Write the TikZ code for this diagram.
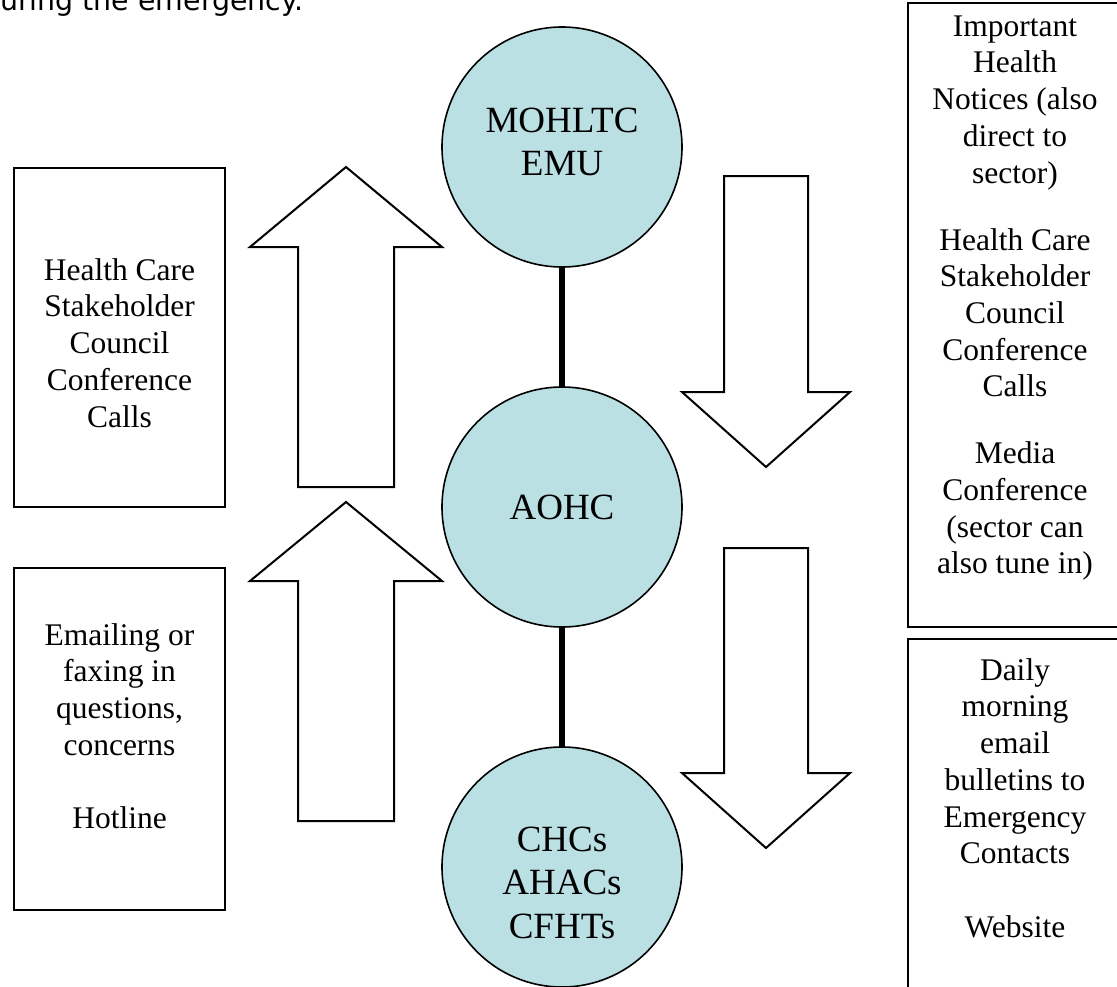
\documentclass[tikz,border=0pt]{standalone}
\usepackage{fontspec}
\setmainfont{Liberation Serif}
\newfontfamily\titlefont{DejaVu Sans}
\definecolor{circfill}{RGB}{186,224,227}
\tikzset{
  boxtext/.style={anchor=north, inner sep=0pt, align=center, font=\fontsize{31.5}{36.7}\selectfont},
  circtext/.style={anchor=north, inner sep=0pt, align=center, font=\fontsize{37}{43.5}\selectfont},
  infobox/.style={draw=black, line width=2pt, fill=none, inner sep=0pt, rectangle},
  bubble/.style={circle, draw=black, line width=1.6pt, fill=circfill, minimum size=240pt, inner sep=0pt},
  flowarrow/.style={draw=black, line width=2pt, fill=white, line join=miter},
  link/.style={line width=6pt, black}
}
\newcommand{\bstrut}{\rule{0pt}{24pt}}
\newcommand{\cstrut}{\rule{0pt}{28pt}}
\begin{document}
\begin{tikzpicture}[x=1pt, y=-1pt]
\useasboundingbox (0,0) rectangle (1117,986);
\clip (0,0) rectangle (1117,986);
\fill[white] (0,0) rectangle (1117,986);

% top (cut) text
\node[anchor=base west, inner sep=0pt, font=\titlefont\fontsize{28.4}{34}\selectfont] (title) at (-18,10) {during the emergency.};

% left boxes
\node[infobox, minimum width=211pt, minimum height=339pt] (lb1) at (119.5,337.5) {};
\node[infobox, minimum width=211pt, minimum height=342pt] (lb2) at (119.5,739) {};
\node[boxtext] (lt1) at (119.5,256) {\bstrut Health Care\\Stakeholder\\Council\\Conference\\Calls};
\node[boxtext] (lt2) at (119.5,621) {\bstrut Emailing or\\faxing in\\questions,\\concerns\\[36.7pt]Hotline};

% right boxes
\node[infobox, minimum width=222pt, minimum height=624pt] (rb1) at (1019,315) {};
\node[infobox, minimum width=222pt, minimum height=361pt] (rb2) at (1019,819.5) {};
\node[boxtext] (rt1) at (1015,12) {\bstrut Important\\Health\\Notices (also\\direct to\\sector)\\[30.3pt]Health Care\\Stakeholder\\Council\\Conference\\Calls\\[30.3pt]Media\\Conference\\(sector can\\also tune in)};
\node[boxtext] (rt2) at (1015,656) {\bstrut Daily\\morning\\email\\bulletins to\\Emergency\\Contacts\\[36.7pt]Website};

% up arrows
\draw[flowarrow] (346,167) -- (442,247) -- (394,247) -- (394,487) -- (298,487) -- (298,247) -- (250,247) -- cycle;
\draw[flowarrow] (346,502) -- (442,581) -- (394,581) -- (394,821) -- (298,821) -- (298,581) -- (250,581) -- cycle;

% down arrows
\draw[flowarrow] (724,176) -- (808,176) -- (808,392) -- (850,392) -- (766,467) -- (682,392) -- (724,392) -- cycle;
\draw[flowarrow] (724,548) -- (808,548) -- (808,773) -- (850,773) -- (766,848) -- (682,773) -- (724,773) -- cycle;

% circles
\node[bubble] (mohltc) at (562,147) {};
\node[bubble] (aohc) at (562,507) {};
\node[bubble] (chcs) at (562,867) {};
\draw[link] (mohltc.south) -- (aohc.north);
\draw[link] (aohc.south) -- (chcs.north);

\node[circtext] (mt) at (562,104) {\cstrut MOHLTC\\EMU};
\node[circtext] (at) at (562,491) {\cstrut AOHC};
\node[circtext] (ct) at (562,823) {\cstrut CHCs\\AHACs\\CFHTs};
\end{tikzpicture}
\end{document}
